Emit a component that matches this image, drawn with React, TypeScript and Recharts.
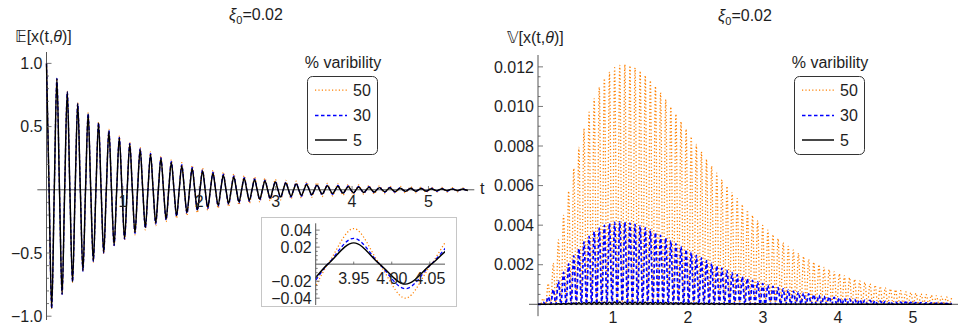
import React from "react";
import { LineChart, Line, XAxis, YAxis, ReferenceLine } from "recharts";

// instants of the extrema of E[x] (= peaks of V[x]) and of the zero crossings
const T_PEAK = [
  0, 0.068, 0.136, 0.204, 0.272, 0.341, 0.409, 0.477, 0.545, 0.613,
  0.681, 0.749, 0.817, 0.885, 0.953, 1.022, 1.09, 1.158, 1.226, 1.294,
  1.362, 1.43, 1.498, 1.566, 1.634, 1.703, 1.771, 1.839, 1.907, 1.975,
  2.043, 2.111, 2.179, 2.247, 2.315, 2.384, 2.452, 2.52, 2.588, 2.656,
  2.724, 2.792, 2.86, 2.928, 2.996, 3.065, 3.133, 3.201, 3.269, 3.337,
  3.405, 3.473, 3.541, 3.609, 3.677, 3.746, 3.814, 3.882, 3.95, 4.018,
  4.086, 4.154, 4.222, 4.29, 4.358, 4.427, 4.495, 4.563, 4.631, 4.699,
  4.767, 4.835, 4.903, 4.971, 5.039, 5.108, 5.176, 5.244, 5.312, 5.38,
  5.448, 5.516,
];
const T_ZERO = [
  0.034, 0.102, 0.17, 0.238, 0.306, 0.375, 0.443, 0.511, 0.579, 0.647,
  0.715, 0.783, 0.851, 0.919, 0.988, 1.056, 1.124, 1.192, 1.26, 1.328,
  1.396, 1.464, 1.532, 1.6, 1.669, 1.737, 1.805, 1.873, 1.941, 2.009,
  2.077, 2.145, 2.213, 2.281, 2.35, 2.418, 2.486, 2.554, 2.622, 2.69,
  2.758, 2.826, 2.894, 2.962, 3.03, 3.099, 3.167, 3.235, 3.303, 3.371,
  3.439, 3.507, 3.575, 3.643, 3.711, 3.78, 3.848, 3.916, 3.984, 4.052,
  4.12, 4.188, 4.256, 4.324, 4.393, 4.461, 4.529, 4.597, 4.665, 4.733,
  4.801, 4.869, 4.937, 5.006, 5.074, 5.142, 5.21, 5.278, 5.346, 5.414,
  5.482,
];

// E[x(t,θ)] at the extrema
const MEAN_50 = [
  1, -0.939, 0.881, -0.828, 0.778, -0.731, 0.687, -0.646, 0.608, -0.572,
  0.538, -0.507, 0.478, -0.45, 0.424, -0.4, 0.377, -0.356, 0.336, -0.317,
  0.3, -0.283, 0.267, -0.253, 0.239, -0.226, 0.214, -0.203, 0.192, -0.182,
  0.172, -0.163, 0.155, -0.146, 0.139, -0.132, 0.125, -0.119, 0.113, -0.107,
  0.102, -0.0964, 0.0917, -0.0871, 0.0828, -0.0788, 0.0749, -0.0712, 0.0678, -0.0645,
  0.0615, -0.0585, 0.0557, -0.0532, 0.0505, -0.0481, 0.046, -0.0438, 0.0418, -0.0399,
  0.038, -0.0364, 0.0347, -0.0331, 0.0316, -0.0301, 0.0287, -0.0275, 0.0262, -0.025,
  0.0239, -0.0228, 0.022, -0.0209, 0.0199, -0.0192, 0.0184, -0.0176, 0.0167, -0.0161,
  0.0154, -0.0147,
];
const MEAN_30 = [
  1, -0.939, 0.881, -0.827, 0.776, -0.729, 0.684, -0.643, 0.604, -0.567,
  0.533, -0.5, 0.47, -0.442, 0.415, -0.391, 0.367, -0.345, 0.325, -0.305,
  0.287, -0.27, 0.254, -0.239, 0.225, -0.212, 0.199, -0.188, 0.177, -0.166,
  0.157, -0.148, 0.139, -0.131, 0.123, -0.116, 0.11, -0.103, 0.097, -0.092,
  0.0865, -0.0815, 0.0768, -0.0724, 0.0683, -0.0645, 0.0608, -0.0573, 0.0541, -0.051,
  0.0482, -0.0454, 0.0429, -0.0406, 0.0382, -0.036, 0.0341, -0.0322, 0.0304, -0.0288,
  0.0271, -0.0257, 0.0243, -0.0229, 0.0217, -0.0204, 0.0193, -0.0183, 0.0172, -0.0163,
  0.0154, -0.0146, 0.0139, -0.013, 0.0123, -0.0117, 0.0111, -0.0105, 0.0099, -0.0094,
  0.0089, -0.0084,
];
const MEAN_5 = [
  1, -0.938, 0.881, -0.826, 0.775, -0.728, 0.683, -0.641, 0.601, -0.564,
  0.529, -0.497, 0.466, -0.438, 0.411, -0.385, 0.362, -0.339, 0.318, -0.299,
  0.28, -0.263, 0.247, -0.232, 0.217, -0.204, 0.191, -0.18, 0.169, -0.158,
  0.148, -0.139, 0.131, -0.123, 0.115, -0.108, 0.101, -0.095, 0.089, -0.084,
  0.079, -0.074, 0.069, -0.065, 0.061, -0.057, 0.054, -0.05, 0.047, -0.044,
  0.042, -0.039, 0.037, -0.034, 0.032, -0.03, 0.028, -0.027, 0.025, -0.0235,
  0.022, -0.0207, 0.0194, -0.0182, 0.0171, -0.016, 0.015, -0.0141, 0.0132, -0.0124,
  0.0116, -0.0109, 0.0103, -0.0096, 0.009, -0.0085, 0.008, -0.0075, 0.007, -0.0066,
  0.0062, -0.0058,
];

// V[x(t,θ)] at the same instants (zero at the crossings)
const VAR_50 = [
  0, 0.000297, 0.001047, 0.002076, 0.003257, 0.004491, 0.005712, 0.00687, 0.007934, 0.008882,
  0.009706, 0.010399, 0.010964, 0.01141, 0.011733, 0.011955, 0.012079, 0.012114, 0.012065, 0.011953,
  0.011792, 0.011567, 0.011306, 0.011019, 0.010694, 0.010343, 0.009982, 0.009616, 0.009236, 0.008858,
  0.008471, 0.008083, 0.007708, 0.00734, 0.006984, 0.00663, 0.006291, 0.005962, 0.005644, 0.005336,
  0.005041, 0.00476, 0.00449, 0.004231, 0.003985, 0.003749, 0.003527, 0.003318, 0.003117, 0.002929,
  0.00275, 0.002581, 0.002422, 0.002271, 0.00213, 0.001996, 0.00187, 0.001752, 0.001641, 0.001536,
  0.001438, 0.001346, 0.001259, 0.001178, 0.001102, 0.001031, 0.000963, 0.000901, 0.000842, 0.000787,
  0.000735, 0.000687, 0.000642, 0.0006, 0.00056, 0.000523, 0.000489, 0.000456, 0.000426, 0.000398,
  0.000371, 0.000347,
];
const VAR_30 = [
  0, 0.000107, 0.000377, 0.000746, 0.001169, 0.00161, 0.002044, 0.002452, 0.002825, 0.003153,
  0.003435, 0.003667, 0.003851, 0.00399, 0.004085, 0.004141, 0.004162, 0.004151, 0.00411, 0.004046,
  0.003964, 0.003863, 0.003749, 0.003624, 0.00349, 0.00335, 0.003207, 0.003061, 0.002914, 0.002768,
  0.002621, 0.002479, 0.002344, 0.002206, 0.002075, 0.001949, 0.001828, 0.001713, 0.001602, 0.001497,
  0.001397, 0.001302, 0.001213, 0.001129, 0.001048, 0.000973, 0.000903, 0.000838, 0.000776, 0.000719,
  0.000665, 0.000616, 0.000569, 0.000526, 0.000485, 0.000448, 0.000413, 0.000381, 0.00035, 0.000323,
  0.000297, 0.000273, 0.000252, 0.000231, 0.000213, 0.000195, 0.00018, 0.000165, 0.000151, 0.000139,
  0.000128, 0.000117, 0.000107, 0.0000984, 0.0000902, 0.0000827, 0.0000757, 0.0000693, 0.0000636, 0.0000582,
  0.0000533, 0.0000488,
];
const VAR_5 = [
  0, 0.000003, 0.0000105, 0.0000207, 0.0000324, 0.0000446, 0.0000566, 0.0000678, 0.000078, 0.0000869,
  0.0000945, 0.0001007, 0.0001055, 0.000109, 0.0001113, 0.0001125, 0.0001128, 0.0001121, 0.0001106, 0.0001085,
  0.000106, 0.0001028, 0.0000994, 0.0000956, 0.0000917, 0.0000876, 0.0000835, 0.0000792, 0.0000751, 0.0000709,
  0.0000668, 0.0000628, 0.0000589, 0.0000552, 0.0000516, 0.0000481, 0.0000449, 0.0000417, 0.0000388, 0.0000359,
  0.0000333, 0.0000308, 0.0000285, 0.0000263, 0.0000242, 0.0000223, 0.0000205, 0.0000189, 0.0000173, 0.0000159,
  0.0000146, 0.0000133, 0.0000122, 0.0000111, 0.0000101, 0.0000092, 0.0000084, 0.0000077, 0.000007, 0.0000063,
  0.0000058, 0.0000052, 0.0000047, 0.0000043, 0.0000039, 0.0000035, 0.0000032, 0.0000029, 0.0000026, 0.0000023,
  0.0000021, 0.0000019, 0.0000017, 0.0000016, 0.0000014, 0.0000013, 0.0000011, 0.000001, 0.0000009, 0.0000008,
  0.0000008, 0.0000007,
];

const T_TICKS = [1, 2, 3, 4, 5];
const MEAN_TICKS = [-1, -0.5, 0.5, 1];
const MEAN_MINOR = [-0.9, -0.8, -0.7, -0.6, -0.4, -0.3, -0.2, -0.1, 0.1, 0.2, 0.3, 0.4, 0.6, 0.7, 0.8, 0.9];
const VAR_TICKS = [0.002, 0.004, 0.006, 0.008, 0.01, 0.012];
const VAR_MINOR = [
  0.0005, 0.001, 0.0015, 0.0025, 0.003, 0.0035, 0.0045, 0.005, 0.0055, 0.0065, 0.007, 0.0075,
  0.0085, 0.009, 0.0095, 0.0105, 0.011, 0.0115,
];
const INSET_T_TICKS = [3.95, 4.0, 4.05];
const INSET_Y_TICKS = [-0.04, -0.02, 0.02, 0.04];
const INSET_Y_MINOR = [-0.035, -0.03, -0.025, -0.015, -0.01, -0.005, 0.005, 0.01, 0.015, 0.025, 0.03, 0.035];

const FONT = "'Liberation Sans', Arial, 'DejaVu Sans', sans-serif";
const AXIS = "#555";
const INK = "#1e1e1e";

const SERIES = [
  { pct: "50", mean: "m50", v: "v50", color: "#ff8000", dash: "1.2 2.2", width: 1.25, vWidth: 1.3 },
  { pct: "30", mean: "m30", v: "v30", color: "#0000ff", dash: "3.5 2.5", width: 1.3, vWidth: 1.7 },
  { pct: "5", mean: "m5", v: "v5", color: "#000000", dash: undefined, width: 1.45, vWidth: 1.4 },
];

const rows = [
  ...T_PEAK.map((t, i) => ({
    t,
    m50: MEAN_50[i], m30: MEAN_30[i], m5: MEAN_5[i],
    v50: VAR_50[i], v30: VAR_30[i], v5: VAR_5[i],
  })),
  ...T_ZERO.map((t) => ({ t, m50: 0, m30: 0, m5: 0, v50: 0, v30: 0, v5: 0 })),
].sort((a, b) => a.t - b.t);

const insetRows = rows.filter((r) => r.t > 3.8 && r.t < 4.2);

const minus = (s: string) => s.replace("-", "\u2212");

function yTick(majors: number[], fmt: (v: number) => string, majorLen: number, minorLen: number) {
  return (props: any) => {
    const { x, y, payload } = props;
    const v = payload.value;
    const major = majors.some((m) => Math.abs(m - v) < 1e-9);
    return (
      <g>
        <line x1={x} x2={x + (major ? majorLen : minorLen)} y1={y} y2={y} stroke={AXIS} strokeWidth={0.8} />
        {major && (
          <text x={x - 4} y={y} dy="0.36em" textAnchor="end" fill={INK} fontSize={16} fontFamily={FONT}>
            {fmt(v)}
          </text>
        )}
      </g>
    );
  };
}

function Legend({ left }: { left: number }) {
  return (
    <svg style={{ position: "absolute", left: left - 10, top: 50 }} width={100} height={110}>
      <text x={46} y={17.6} textAnchor="middle" fill={INK} fontSize={16} fontFamily={FONT}>
        % varibility
      </text>
      <rect x={10.5} y={26.5} width={70} height={78} rx={5} fill="#fff" stroke="#333" strokeWidth={1} />
      {SERIES.map((s, i) => {
        const y = [40, 65.5, 90][i];
        return (
          <g key={s.pct}>
            <line x1={18} x2={50} y1={y} y2={y} stroke={s.color} strokeWidth={s.width} strokeDasharray={s.dash} />
            <text x={56} y={y} dy="0.36em" fill={INK} fontSize={16} fontFamily={FONT}>
              {s.pct}
            </text>
          </g>
        );
      })}
    </svg>
  );
}

const textStyle: React.CSSProperties = {
  position: "absolute",
  fontFamily: FONT,
  fontSize: 16,
  lineHeight: "16px",
  color: INK,
  whiteSpace: "nowrap",
};

function Title({ cx, top }: { cx: number; top: number }) {
  return (
    <div style={{ ...textStyle, left: cx, top, transform: "translateX(-50%)" }}>
      <i>ξ</i>
      <sub style={{ fontSize: 11 }}>0</sub>=0.02
    </div>
  );
}

export default function App() {
  return (
    <div style={{ position: "absolute", left: 0, top: 0, width: 966, height: 327, background: "#fff", overflow: "hidden" }}>
      {/* mean */}
      <div style={{ position: "absolute", left: 0, top: 0 }}>
        <LineChart width={483} height={327} data={rows} margin={{ top: 52, right: 8.7, bottom: 7, left: 0 }}>
          <XAxis type="number" dataKey="t" domain={[0, 5.6]} hide />
          <YAxis
            type="number"
            domain={[-1.03, 1.09]}
            ticks={[...MEAN_TICKS, ...MEAN_MINOR]}
            interval={0}
            width={46.5}
            axisLine={false}
            tickLine={false}
            tickSize={0}
            tickMargin={0}
            tick={yTick(MEAN_TICKS, (v) => minus(v.toFixed(1)), 5, 2.5)}
          />
          <ReferenceLine segment={[{ x: 0, y: -1.03 }, { x: 0, y: 1.09 }]} stroke={AXIS} strokeWidth={1} ifOverflow="visible" />
          <ReferenceLine segment={[{ x: -0.12, y: 0 }, { x: 5.6, y: 0 }]} stroke={AXIS} strokeWidth={1} ifOverflow="visible" />
          {T_TICKS.map((t) => (
            <ReferenceLine
              key={t}
              segment={[{ x: t, y: 0 }, { x: t, y: 0.03 }]}
              stroke={AXIS}
              strokeWidth={0.8}
              ifOverflow="visible"
              label={{ value: String(t), position: "bottom", offset: 6, fill: INK, fontSize: 16, fontFamily: FONT }}
            />
          ))}
          {SERIES.map((s) => (
            <Line
              key={s.pct}
              type="monotone"
              dataKey={s.mean}
              stroke={s.color}
              strokeWidth={s.width}
              strokeDasharray={s.dash}
              dot={false}
              activeDot={false}
              isAnimationActive={false}
            />
          ))}
        </LineChart>
      </div>

      {/* inset */}
      <div
        style={{
          position: "absolute", left: 261, top: 217, width: 196, height: 90,
          border: "1px solid #c6c6c6", boxSizing: "border-box", background: "#fff",
        }}
      />
      <div style={{ position: "absolute", left: 261, top: 217 }}>
        <LineChart width={196} height={90} data={insetRows} margin={{ top: 6.3, right: 12, bottom: 2, left: 0 }}>
          <XAxis type="number" dataKey="t" domain={[3.9, 4.07]} allowDataOverflow hide />
          <YAxis
            type="number"
            domain={[-0.048, 0.048]}
            allowDataOverflow
            ticks={[...INSET_Y_TICKS, ...INSET_Y_MINOR]}
            interval={0}
            width={54.7}
            axisLine={false}
            tickLine={false}
            tickSize={0}
            tickMargin={0}
            tick={yTick(INSET_Y_TICKS, (v) => minus(v.toFixed(2)), 4, 2)}
          />
          <ReferenceLine segment={[{ x: 3.9, y: -0.048 }, { x: 3.9, y: 0.048 }]} stroke={AXIS} strokeWidth={1} ifOverflow="visible" />
          <ReferenceLine segment={[{ x: 3.9, y: 0 }, { x: 4.07, y: 0 }]} stroke={AXIS} strokeWidth={1} ifOverflow="visible" />
          {INSET_T_TICKS.map((t) => (
            <ReferenceLine
              key={t}
              segment={[{ x: t, y: 0 }, { x: t, y: 0.003 }]}
              stroke={AXIS}
              strokeWidth={0.8}
              ifOverflow="visible"
              label={{ value: t.toFixed(2), position: "bottom", offset: 8, fill: INK, fontSize: 16, fontFamily: FONT }}
            />
          ))}
          {SERIES.map((s) => (
            <Line
              key={s.pct}
              type="monotone"
              dataKey={s.mean}
              stroke={s.color}
              strokeWidth={s.width}
              strokeDasharray={s.dash}
              dot={false}
              activeDot={false}
              isAnimationActive={false}
            />
          ))}
        </LineChart>
      </div>

      {/* variance */}
      <div style={{ position: "absolute", left: 483, top: 0 }}>
        <LineChart width={483} height={327} data={rows} margin={{ top: 55, right: 8, bottom: 0, left: 0 }}>
          <XAxis
            type="number"
            dataKey="t"
            domain={[0, 5.6]}
            ticks={T_TICKS}
            interval={0}
            height={22.7}
            axisLine={false}
            tickLine={false}
            tickSize={0}
            tickMargin={7}
            tick={{ fill: INK, fontSize: 16, fontFamily: FONT }}
          />
          <YAxis
            type="number"
            domain={[0, 0.0126]}
            ticks={[...VAR_TICKS, ...VAR_MINOR]}
            interval={0}
            width={55}
            axisLine={false}
            tickLine={false}
            tickSize={0}
            tickMargin={0}
            tick={yTick(VAR_TICKS, (v) => v.toFixed(3), 5, 2.5)}
          />
          <ReferenceLine segment={[{ x: 0, y: -0.0006 }, { x: 0, y: 0.0126 }]} stroke={AXIS} strokeWidth={1} ifOverflow="visible" />
          <ReferenceLine segment={[{ x: -0.12, y: 0 }, { x: 5.6, y: 0 }]} stroke={AXIS} strokeWidth={1} ifOverflow="visible" />
          {T_TICKS.map((t) => (
            <ReferenceLine key={t} segment={[{ x: t, y: 0 }, { x: t, y: 0.00015 }]} stroke={AXIS} strokeWidth={0.8} ifOverflow="visible" />
          ))}
          {SERIES.map((s) => (
            <Line
              key={s.pct}
              type="monotone"
              dataKey={s.v}
              stroke={s.color}
              strokeWidth={s.vWidth}
              strokeDasharray={s.dash}
              dot={false}
              activeDot={false}
              isAnimationActive={false}
            />
          ))}
        </LineChart>
      </div>

      <Title cx={256} top={7} />
      <Title cx={745} top={8} />
      <div style={{ ...textStyle, left: 15, top: 29 }}>
        𝔼[x(t,<i>θ</i>)]
      </div>
      <div style={{ ...textStyle, left: 507, top: 30 }}>
        𝕍[x(t,<i>θ</i>)]
      </div>
      <div style={{ ...textStyle, left: 480, top: 181 }}>t</div>
      <Legend left={307} />
      <Legend left={794} />
    </div>
  );
}
